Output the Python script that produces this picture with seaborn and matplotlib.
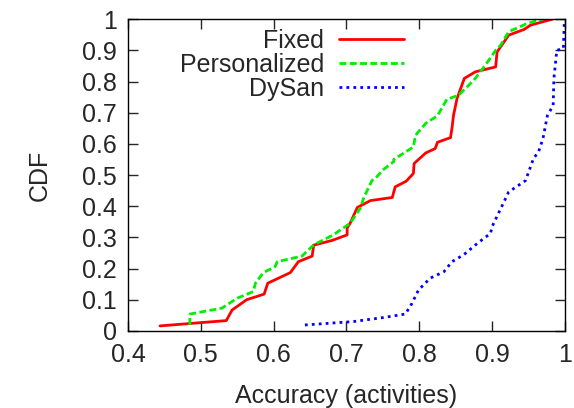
import pandas as pd
import matplotlib
matplotlib.use("Agg")
import matplotlib.pyplot as plt
import seaborn as sns

# CDF points (accuracy, cdf)
fixed_acc = [0.444, 0.535, 0.543, 0.563, 0.587, 0.592, 0.623, 0.634, 0.653, 0.655, 0.680,
             0.701, 0.701, 0.705, 0.715, 0.733, 0.763, 0.767, 0.782, 0.792, 0.793, 0.809,
             0.822, 0.825, 0.843, 0.845, 0.847, 0.852, 0.862, 0.877, 0.905, 0.907, 0.923,
             0.944, 0.953, 0.983]
fixed_cdf = [0.016, 0.033, 0.067, 0.100, 0.118, 0.153, 0.187, 0.222, 0.240, 0.275, 0.290,
             0.308, 0.330, 0.345, 0.396, 0.418, 0.428, 0.462, 0.480, 0.505, 0.537, 0.571,
             0.585, 0.605, 0.620, 0.650, 0.690, 0.746, 0.810, 0.831, 0.847, 0.895, 0.949,
             0.967, 0.981, 1.000]

pers_acc = [0.485, 0.485, 0.529, 0.550, 0.572, 0.575, 0.586, 0.602, 0.605, 0.639, 0.655,
            0.682, 0.705, 0.719, 0.724, 0.735, 0.740, 0.751, 0.765, 0.765, 0.792, 0.795,
            0.809, 0.825, 0.838, 0.854, 0.875, 0.891, 0.905, 0.912, 0.923, 0.948, 0.969]
pers_cdf = [0.019, 0.054, 0.073, 0.105, 0.126, 0.153, 0.187, 0.206, 0.222, 0.240, 0.276,
            0.308, 0.345, 0.393, 0.428, 0.482, 0.490, 0.518, 0.543, 0.550, 0.590, 0.628,
            0.666, 0.690, 0.743, 0.756, 0.804, 0.853, 0.900, 0.917, 0.960, 0.986, 1.000]

dysan_acc = [0.643, 0.710, 0.751, 0.781, 0.790, 0.799, 0.815, 0.834, 0.845, 0.861, 0.880,
             0.898, 0.900, 0.923, 0.946, 0.957, 0.964, 0.970, 0.976, 0.984, 0.985, 0.989,
             0.998, 0.9995]
dysan_cdf = [0.019, 0.030, 0.043, 0.054, 0.088, 0.131, 0.169, 0.190, 0.222, 0.244, 0.281,
             0.313, 0.334, 0.446, 0.482, 0.553, 0.575, 0.617, 0.690, 0.724, 0.810, 0.900,
             0.906, 0.997]

frames = []
for name, xs, ys in [("Fixed", fixed_acc, fixed_cdf),
                     ("Personalized", pers_acc, pers_cdf),
                     ("DySan", dysan_acc, dysan_cdf)]:
    frames.append(pd.DataFrame({"acc": xs, "cdf": ys, "method": name}))
df = pd.concat(frames, ignore_index=True)

sns.set_style("ticks")
plt.rcParams["font.family"] = ["Liberation Sans", "DejaVu Sans"]

fig, ax = plt.subplots(figsize=(5.74, 4.08), dpi=100)
fig.subplots_adjust(left=0.223, right=0.984, bottom=0.189, top=0.953)

palette = {"Fixed": "#ff0000", "Personalized": "#00ee00", "DySan": "#0000ff"}
dashes = {"Fixed": "", "Personalized": (2.5, 1.2), "DySan": (1, 1.5)}
sns.lineplot(data=df, x="acc", y="cdf", hue="method", style="method",
             palette=palette, dashes=dashes, estimator=None, sort=False,
             linewidth=2, ax=ax)

ax.set_xlim(0.4, 1.0)
ax.set_ylim(0, 1)
ax.set_xticks([0.4, 0.5, 0.6, 0.7, 0.8, 0.9, 1.0])
ax.set_xticklabels(["0.4", "0.5", "0.6", "0.7", "0.8", "0.9", "1"])
ax.set_yticks([i / 10 for i in range(11)])
ax.set_yticklabels(["0"] + ["0.%d" % i for i in range(1, 10)] + ["1"])
ax.tick_params(direction="in", length=7, width=1, labelsize=18, top=True, right=True)
ax.tick_params(axis="x", pad=9)
ax.tick_params(axis="y", pad=8)
for s in ax.spines.values():
    s.set_linewidth(1)
    s.set_color("black")
ax.set_xlabel("Accuracy (activities)", fontsize=18, labelpad=12)
ax.set_ylabel("CDF", fontsize=18, labelpad=22)

handles, labels = ax.get_legend_handles_labels()
ax.legend(handles, labels, loc="upper left", bbox_to_anchor=(0.096, 1.0),
          frameon=False, markerfirst=False, fontsize=18, handlelength=2.6,
          handletextpad=0.6, labelspacing=0.0, borderaxespad=0.0)

plt.savefig("out.png", dpi=100)
